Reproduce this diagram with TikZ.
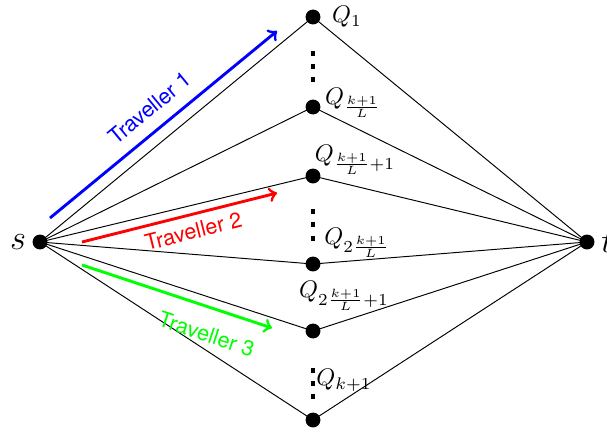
\documentclass[tikz,border=0pt]{standalone}
\usepackage{fontspec}
\newfontfamily\helv{TeX Gyre Heros}
\begin{document}
\begin{tikzpicture}[x=0.01464cm,y=-0.01464cm,
  dot/.style={circle,fill=black,inner sep=0pt,minimum size=6.2pt},
  qlab/.style={inner sep=0pt},
  trav/.style={very thick,->},
  travlab/.style={sloped,font=\helv\small,inner sep=2pt}]
\useasboundingbox (0,0) rectangle (607,433);
\node[dot] (s) at (40,242) {};
\node[dot] (t) at (587,242) {};
\node[dot] (q1) at (313,17) {};
\node[dot] (q2) at (313,107) {};
\node[dot] (q3) at (313,176) {};
\node[dot] (q4) at (313,264) {};
\node[dot] (q5) at (313,331) {};
\node[dot] (q6) at (313,420) {};
\foreach \q in {q1,q2,q3,q4,q5,q6} \draw (s.center) -- (\q.center) -- (t.center);
\node[font=\Large] (sl) at (18,242) {$s$};
\node[font=\Large,anchor=west,inner sep=0pt] (tl) at (601,242) {$t$};
\node[qlab] (l1) at (347,17) {$Q_1$};
\node[qlab] (l2) at (353,103) {$Q_{\frac{k+1}{L}}$};
\node[qlab] (l3) at (355,160) {$Q_{\frac{k+1}{L}+1}$};
\node[qlab] (l4) at (357,243) {$Q_{2\frac{k+1}{L}}$};
\node[qlab] (l5) at (344,296) {$Q_{2\frac{k+1}{L}+1}$};
\node[qlab] (l6) at (344,380) {$Q_{k+1}$};
\foreach \y in {53,66,79,211,224,238,370,383,396}
  \fill (311,\y-2.5) rectangle (315,\y+2.5);
\coordinate (b1) at (50,218); \coordinate (b2) at (277,31);
\coordinate (r1) at (82,242); \coordinate (r2) at (277,193);
\coordinate (g1) at (82,265); \coordinate (g2) at (272,328);
\draw[trav,blue] (b1) -- node[travlab,above=3pt,pos=0.50] (tr1) {Traveller 1} (b2);
\draw[trav,red] (r1) -- node[travlab,below=1pt,pos=0.55] (tr2) {Traveller 2} (r2);
\draw[trav,green] (g1) -- node[travlab,below=5pt,pos=0.70] (tr3) {Traveller 3} (g2);
\end{tikzpicture}
\end{document}
